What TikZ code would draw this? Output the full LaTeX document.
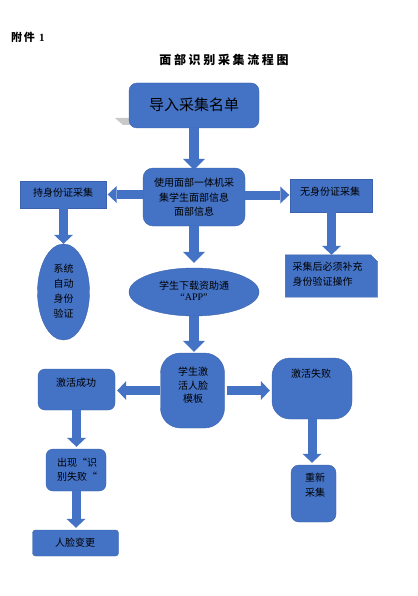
\documentclass[tikz,border=0pt]{standalone}
\usepackage{fontspec}
\setmainfont{Noto Sans CJK SC}
\newfontfamily\serif{Liberation Serif}
\newfontfamily\titlefont{Noto Sans CJK SC}[LetterSpace=22]
\usetikzlibrary{arrows.meta,shapes.geometric,backgrounds}
\definecolor{fillblue}{HTML}{4472C4}
\definecolor{edgeblue}{HTML}{3C64AE}
\definecolor{shadowgray}{HTML}{C9C9C9}
\tikzset{
  blk/.style={fill=fillblue, draw=edgeblue, line width=0.4pt, inner sep=0pt},
  txt/.style={font=\fontsize{10}{14.5}\selectfont, align=center, inner sep=0pt, text=black},
  barrow/.style={draw=fillblue, line width=10pt, -{Triangle[width=22pt,length=11pt,line width=0pt]}},
  sarrow/.style={draw=fillblue, line width=9pt, -{Triangle[width=19pt,length=9pt,line width=0pt]}},
  harrow/.style={draw=fillblue, line width=9pt, -{Triangle[width=17pt,length=9pt,line width=0pt]}},
}
\begin{document}
\begin{tikzpicture}[x=1pt,y=-1pt]
\useasboundingbox (0,0) rectangle (417,596);
\fill[white] (0,0) rectangle (417,596);

% headings
\node[anchor=base west, inner sep=0pt, font=\fontsize{11}{13}\selectfont\bfseries] (att) at (11,42) {\addfontfeature{LetterSpace=15}附件 {\serif\bfseries 1}};
\node[anchor=base, inner sep=0pt, font=\fontsize{12}{14}\selectfont\bfseries\titlefont] (title) at (224,65) {面部识别采集流程图};

% shadow of first box
\fill[shadowgray] (115,118) -- (130,118) -- (130,125) -- (123,125) -- cycle;

% boxes
\node[blk, rounded corners=8pt, minimum width=130pt, minimum height=45pt] (b1) at (194,105.5) {};
\node[txt, font=\fontsize{15}{17}\selectfont] (b1t) at (194,105) {导入采集名单};

\node[blk, rounded corners=10pt, minimum width=102pt, minimum height=58pt] (b2) at (194,197) {};
\node[txt] (b2t) at (194,197.5) {使用面部一体机采\\集学生面部信息\\面部信息};

\node[blk, minimum width=86pt, minimum height=27pt] (hold) at (63.5,194.5) {};
\node[txt] (holdt) at (63,193) {持身份证采集};

\node[blk, minimum width=82pt, minimum height=33pt] (noid) at (331.5,195.5) {};
\node[txt] (noidt) at (330,191.5) {无身份证采集};

\node[blk, ellipse, minimum width=52pt, minimum height=96pt] (ell1) at (63.5,292) {};
\node[txt, font=\fontsize{10}{15}\selectfont] (ell1t) at (63.5,291) {系统\\自动\\身份\\验证};

\node[blk, ellipse, minimum width=130pt, minimum height=48pt] (ell2) at (194,292) {};
\node[txt] (ell2t) at (194,291) {学生下载资助通\\[-3pt]{\serif “APP”}};

% document shape with folded corner
\node[inner sep=0pt, minimum width=92pt, minimum height=42pt] (doc) at (331.5,276) {};
\filldraw[fill=fillblue, draw=edgeblue, line width=0.4pt]
  (doc.south west) -- (doc.north west) -- ([xshift=-7pt]doc.north east)
  -- ([yshift=-7pt]doc.north east) -- (doc.south east) -- cycle;
\node[txt, align=left, anchor=west, font=\fontsize{10}{15}\selectfont] (doct) at (292.5,274.5) {采集后必须补充\\身份验证操作};

\node[blk, rounded corners=20pt, minimum width=64pt, minimum height=75pt] (act) at (192.5,390.5) {};
\node[txt, font=\fontsize{10}{13.5}\selectfont] (actt) at (193,385.5) {学生激\\活人脸\\模板};

\node[blk, rounded corners=7pt, minimum width=77pt, minimum height=41pt] (succ) at (76.5,389.5) {};
\node[txt] (succt) at (76,383) {激活成功};

\node[blk, rounded corners=18pt, minimum width=80pt, minimum height=61pt] (fail) at (312,388.5) {};
\node[txt] (failt) at (311,374) {激活失败};

\node[blk, rounded corners=7pt, minimum width=60pt, minimum height=42pt] (err) at (76,470) {};
\node[txt, font=\fontsize{10}{14}\selectfont] (errt) at (77,470) {出现“识\\别失败“};

\node[blk, rounded corners=3pt, minimum width=86pt, minimum height=26pt] (face) at (75.5,543) {};
\node[txt] (facet) at (75,543) {人脸变更};

\node[blk, rounded corners=8pt, minimum width=45pt, minimum height=57pt] (redo) at (313.5,493.5) {};
\node[txt, font=\fontsize{10}{15}\selectfont] (redot) at (315,485.5) {重新\\采集};

% arrows
\draw[barrow] (b1.south) -- ([yshift=-2pt]b2.north);
\draw[barrow] (b2.south) -- ([yshift=5pt]ell2.north);
\draw[harrow] (b2.west |- hold.east) -- ([xshift=1pt]hold.east);
\draw[harrow] ([yshift=0.5pt]b2.east |- noid.west) -- ([xshift=-1pt,yshift=0.5pt]noid.west);
\draw[sarrow] (hold.south) -- (hold.south |- ell1.north);
\draw[sarrow] (noid.south) -- (noid.south |- doc.north);
\draw[barrow] (ell2.south) -- ([yshift=1pt]ell2.south |- act.north);
\draw[sarrow] (act.west) -- ([xshift=2pt]act.west -| succ.east);
\draw[sarrow] ([xshift=2pt]act.east) -- ([xshift=-2pt]act.east -| fail.west);
\draw[sarrow] (succ.south) -- ([yshift=2pt]succ.south |- err.north);
\draw[sarrow] (err.south) -- ([yshift=2pt]err.south |- face.north);
\draw[sarrow] (fail.south) -- ([yshift=2pt]fail.south |- redo.north);
\end{tikzpicture}
\end{document}
